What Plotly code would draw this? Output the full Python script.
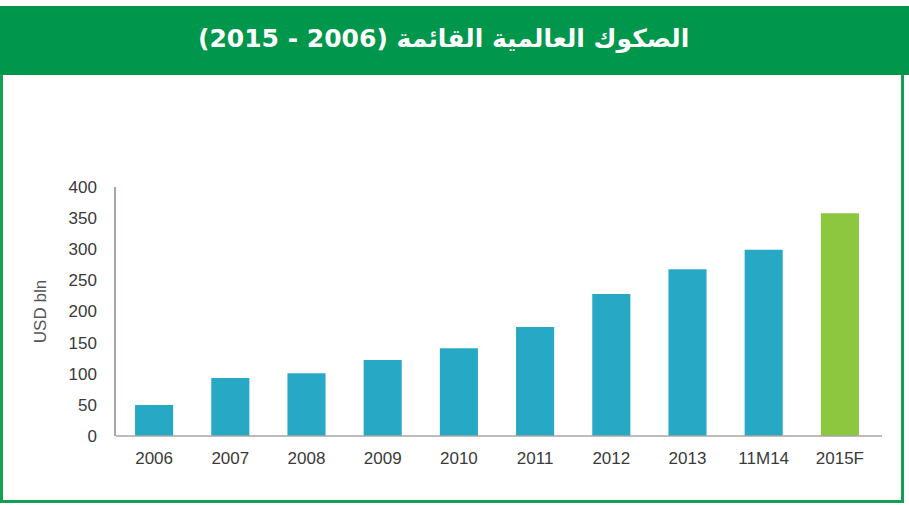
import plotly.graph_objects as go

categories = ["2006", "2007", "2008", "2009", "2010", "2011", "2012", "2013", "11M14", "2015F"]
values = [50, 93, 101, 122, 141, 175, 228, 268, 299, 358]
bar_colors = ["#27A9C6"] * 9 + ["#8DC63F"]
y_ticks = [0, 50, 100, 150, 200, 250, 300, 350, 400]
title_text = "\u202bالصكوك العالمية القائمة (2006 - 2015)\u202c"
y_title = "USD bln"

W, H = 909, 505
L, R, T, B = 116, 31, 187, 69
pw, ph = W - L - R, H - T - B

def px(x):
    return (x - L) / pw

def py(y):
    return (H - B - y) / ph

fig = go.Figure(go.Bar(x=categories, y=values, marker=dict(color=bar_colors, line=dict(width=0)),
                       width=0.5, hoverinfo="skip"))

green = "#00964B"
frame = "#14A052"
shapes = [
    dict(type="rect", xref="paper", yref="paper", x0=px(0), x1=px(W), y0=py(75), y1=py(6),
         fillcolor=green, line=dict(width=0), layer="below"),
    dict(type="line", xref="paper", yref="paper", x0=px(1.5), x1=px(1.5), y0=py(75), y1=py(503),
         line=dict(color=frame, width=3)),
    dict(type="line", xref="paper", yref="paper", x0=px(902.5), x1=px(902.5), y0=py(75), y1=py(503),
         line=dict(color=frame, width=3)),
    dict(type="line", xref="paper", yref="paper", x0=px(0), x1=px(904), y0=py(501.5), y1=py(501.5),
         line=dict(color=frame, width=3)),
    dict(type="line", xref="paper", yref="paper", x0=0, x1=px(882), y0=0, y1=0,
         line=dict(color="#A8A4A4", width=1.5)),
]

fig.update_layout(
    width=W, height=H,
    margin=dict(l=L, r=R, t=T, b=B),
    paper_bgcolor="white", plot_bgcolor="white",
    showlegend=False,
    shapes=shapes,
    annotations=[dict(text=title_text, xref="paper", yref="paper", x=px(443), y=py(39),
                      xanchor="center", yanchor="middle", showarrow=False,
                      font=dict(family="DejaVu Sans", size=25, color="white", weight="bold"))],
    xaxis=dict(type="category", showgrid=False, showline=False, ticks="",
               tickfont=dict(family="Liberation Sans, Arial", size=17, color="#3A3A3A"),
               ticklabelstandoff=10),
    yaxis=dict(range=[0, 400], tickvals=y_ticks, showgrid=False, zeroline=False,
               showline=True, linecolor="#B0A2A2", linewidth=1.5, ticks="",
               ticklabelstandoff=14,
               tickfont=dict(family="Liberation Sans, Arial", size=17, color="#3A3A3A"),
               title=dict(text=y_title, standoff=18,
                          font=dict(family="Liberation Sans, Arial", size=17, color="#555555"))),
)

fig.write_html("out.html", config={"displayModeBar": False},
               post_script="document.body.style.margin='0';document.body.style.overflow='hidden';")
